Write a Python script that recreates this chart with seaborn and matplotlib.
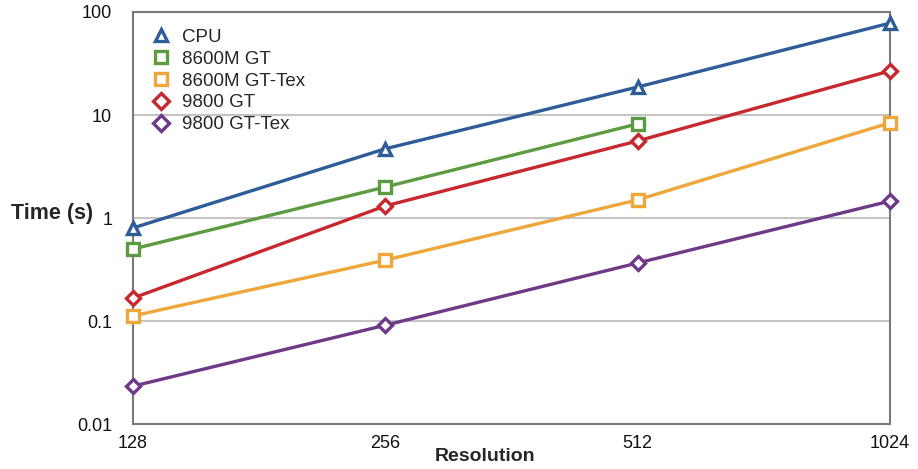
import numpy as np
import pandas as pd
import matplotlib
matplotlib.use("Agg")
import matplotlib.pyplot as plt
import seaborn as sns
from matplotlib.ticker import FixedLocator, FixedFormatter, NullLocator

resolutions = [128, 256, 512, 1024]
series_names = ["CPU", "8600M GT", "8600M GT-Tex", "9800 GT", "9800 GT-Tex"]
cpu = [0.80, 4.7, 18.7, 78.0]
gt8600m = [0.50, 2.0, 8.2, np.nan]
gt8600m_tex = [0.112, 0.39, 1.5, 8.4]
gt9800 = [0.167, 1.31, 5.6, 26.8]
gt9800_tex = [0.0233, 0.091, 0.366, 1.46]
y_ticks = [0.01, 0.1, 1, 10, 100]
y_tick_labels = ["0.01", "0.1", "1", "10", "100"]

colors = {"CPU": "#2e5c99", "8600M GT": "#5c9b42", "8600M GT-Tex": "#efa63b",
          "9800 GT": "#c7282d", "9800 GT-Tex": "#6e3a87"}
markers = {"CPU": "^", "8600M GT": "s", "8600M GT-Tex": "s",
           "9800 GT": "D", "9800 GT-Tex": "D"}
msizes = {"CPU": 9, "8600M GT": 8, "8600M GT-Tex": 8, "9800 GT": 7.5, "9800 GT-Tex": 7.5}

rows = []
for name, vals in zip(series_names, [cpu, gt8600m, gt8600m_tex, gt9800, gt9800_tex]):
    for r, v in zip(resolutions, vals):
        rows.append({"Resolution": r, "Time": v, "Series": name})
df = pd.DataFrame(rows).dropna()

sns.set_theme(style="white")
plt.rcParams["font.family"] = ["Liberation Sans", "DejaVu Sans"]

fig = plt.figure(figsize=(9.18, 4.69), dpi=100)
ax = fig.add_axes([133/918, 45/469, 757/918, 412/469])

sns.lineplot(data=df, x="Resolution", y="Time", hue="Series", style="Series",
             hue_order=series_names, style_order=series_names,
             palette=colors, markers=markers, dashes=False, lw=2.4,
             markerfacecolor="white", markeredgewidth=2.4, markersize=8,
             ax=ax, legend=True, zorder=3, clip_on=False)

for line, name in zip(ax.get_lines(), series_names):
    line.set_markeredgecolor(colors[name])
    line.set_markersize(msizes[name])

ax.set_xscale("log", base=2)
ax.set_yscale("log")
ax.set_xlim(128, 1024)
ax.set_ylim(0.01, 100)
ax.xaxis.set_major_locator(FixedLocator(resolutions))
ax.xaxis.set_major_formatter(FixedFormatter([str(r) for r in resolutions]))
ax.xaxis.set_minor_locator(NullLocator())
ax.yaxis.set_major_locator(FixedLocator(y_ticks))
ax.yaxis.set_major_formatter(FixedFormatter(y_tick_labels))
ax.yaxis.set_minor_locator(NullLocator())
ax.tick_params(axis="both", length=0, labelsize=13, colors="#111111")
ax.tick_params(axis="y", pad=15)
ax.tick_params(axis="x", pad=8)

ax.grid(axis="y", color="#c4c4c4", lw=1.5)
ax.grid(axis="x", visible=False)
for s in ax.spines.values():
    s.set_visible(True)
    s.set_color("#7a7a7a")
    s.set_linewidth(1.5)

ax.set_xlabel("Resolution", fontsize=14, fontweight="bold", va="center")
ax.xaxis.set_label_coords(0.465, -0.08)
ax.set_ylabel("Time (s)", fontsize=15.5, fontweight="bold", rotation=0, va="center", ha="center")
ax.yaxis.set_label_coords(-0.107, 0.512)

h, l = ax.get_legend_handles_labels()
for hh, name in zip(h, l):
    hh.set_markerfacecolor("white")
    hh.set_markeredgecolor(colors[name])
    hh.set_markeredgewidth(2.4)
    hh.set_linewidth(0)
ax.legend(h, l, loc="upper left", frameon=False, fontsize=13.5, handlelength=1.2,
          handletextpad=0.5, labelspacing=0.25, bbox_to_anchor=(0.0, 1.0),
          borderaxespad=0.5)

fig.savefig("out.png", dpi=100)
